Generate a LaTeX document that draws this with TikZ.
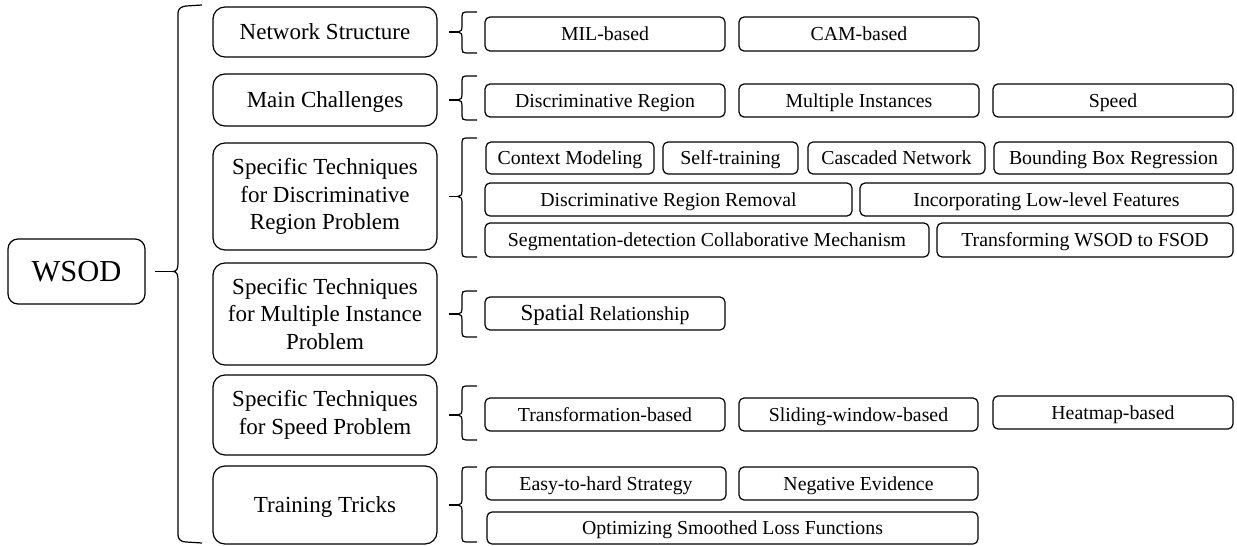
\documentclass[tikz,border=0pt]{standalone}
\usepackage{fontspec}
\setmainfont{Liberation Serif}
\begin{document}
\begin{tikzpicture}[x=1pt,y=-1pt,line width=1.2pt,
  rootbox/.style={draw,rounded corners=10pt,inner sep=0pt,text height=26pt,text depth=5.8pt,font=\fontsize{30.5}{34}\selectfont},
  midbox/.style={draw,rounded corners=12pt,inner sep=0pt,align=center,font=\fontsize{23}{27.5}\selectfont},
  midone/.style={draw,rounded corners=12pt,inner sep=0pt,text height=19.5pt,text depth=4.3pt,font=\fontsize{23}{27.5}\selectfont},
  leafbox/.style={draw,rounded corners=5pt,inner sep=0pt,text height=17pt,text depth=3.9pt,font=\fontsize{19.8}{23}\selectfont},
  brc/.style={draw,line width=1.2pt}]
\useasboundingbox (0,0) rectangle (1237,546);
\newcommand\bx[7]{\node[#1,minimum width={#5-#3},minimum height={#6-#4}] (#2) at ({(#3+#5)/2},{(#4+#6)/2}) {#7};}
% small brace: top, tip y, bottom
\newcommand\sbr[3]{\draw[brc] (477,#1) -- (466,#1) .. controls (463,#1) and (462,{#1+1}) .. (462,{#1+4}) -- (462,{#2-6}) .. controls (462,{#2-2}) and (461,#2) .. (458,#2) .. controls (461,#2) and (462,{#2+2}) .. (462,{#2+6}) -- (462,{#3-4}) .. controls (462,{#3-1}) and (463,#3) .. (466,#3) -- (477,#3);}
% root
\bx{rootbox}{wsod}{8}{239}{145}{304}{WSOD}
% middle column
\bx{midone}{ns}{213}{7}{437}{57}{Network Structure}
\bx{midone}{mc}{213}{74}{437}{126}{Main Challenges}
\bx{midbox}{sd}{213}{143}{437}{250}{Specific Techniques\\for Discriminative\\Region Problem}
\bx{midbox}{sm}{213}{263}{437}{365}{Specific Techniques\\for Multiple Instance\\Problem}
\bx{midbox}{ss}{213}{375}{437}{455}{Specific Techniques\\for Speed Problem}
\bx{midone}{tt}{213}{466}{437}{544}{Training Tricks}
% leaves
\bx{leafbox}{mil}{485}{17}{725}{51}{MIL-based}
\bx{leafbox}{cam}{739}{17}{979}{51}{CAM-based}
\bx{leafbox}{dr}{485}{84}{725}{117}{Discriminative Region}
\bx{leafbox}{mi}{739}{84}{979}{117}{Multiple Instances}
\bx{leafbox}{sp}{993}{84}{1233}{117}{Speed}
\bx{leafbox}{cm}{486}{142}{654}{174}{Context Modeling}
\bx{leafbox}{st}{663}{142}{798}{174}{Self-training}
\bx{leafbox}{cn}{808}{142}{985}{174}{Cascaded Network}
\bx{leafbox}{bbr}{994}{142}{1233}{174}{Bounding Box Regression}
\bx{leafbox}{drr}{485}{183}{852}{216}{Discriminative Region Removal}
\bx{leafbox}{ilf}{860}{183}{1233}{216}{Incorporating Low-level Features}
\bx{leafbox}{sdc}{485}{223}{929}{257}{Segmentation-detection Collaborative Mechanism}
\bx{leafbox}{tw}{937}{223}{1233}{257}{Transforming WSOD to FSOD}
\bx{leafbox}{sr}{485}{297}{725}{330}{{\fontsize{23}{23}\selectfont Spatial} Relationship}
\bx{leafbox}{tb}{485}{398}{725}{431}{Transformation-based}
\bx{leafbox}{sw}{739}{398}{978}{431}{Sliding-window-based}
\bx{leafbox}{hm}{993}{396}{1233}{429}{Heatmap-based}
\bx{leafbox}{eh}{486}{467}{726}{500}{Easy-to-hard Strategy}
\bx{leafbox}{ne}{739}{467}{978}{500}{Negative Evidence}
\bx{leafbox}{osl}{487}{512}{978}{544}{Optimizing Smoothed Loss Functions}
% big brace
\draw[brc] ([xshift=9pt]wsod.east) -- ++(19,0);
\draw[brc] (202,5) -- (186,6) .. controls (181,6.5) and (178,9) .. (178,13) -- (178,263.5) .. controls (178,268) and (177,271.5) .. (173,271.5) .. controls (177,271.5) and (178,275) .. (178,279.5) -- (178,535) .. controls (178,539) and (181,542) .. (186,542) -- (202,543);
% small braces with connectors from the middle boxes
\foreach \b in {ns,mc,sd,sm,ss,tt}{\draw[brc] ([xshift=11pt]\b.east) -- ++(10,0);}
\sbr{12}{32}{53}
\sbr{76}{100}{120}
\sbr{138}{196.5}{257}
\sbr{291}{314}{337}
\sbr{386}{415}{440}
\sbr{467}{505}{542}
\end{tikzpicture}
\end{document}
